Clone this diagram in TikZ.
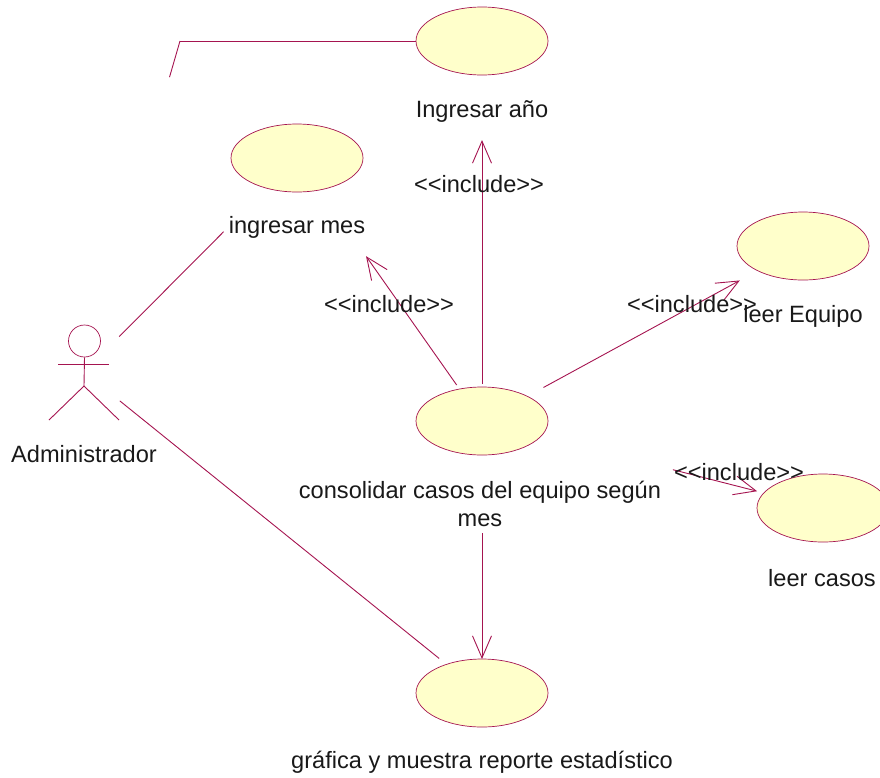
\documentclass[tikz,border=0pt]{standalone}
\usepackage{fontspec}
\setmainfont{Liberation Sans}
\usepackage{tikz}
\usetikzlibrary{shapes.geometric, arrows.meta}
\definecolor{umlline}{RGB}{165,20,80}
\definecolor{umlfill}{RGB}{255,255,203}

\begin{document}
\begin{tikzpicture}[x=1pt, y=-1pt,
  usecase/.style={ellipse, draw=umlline, fill=umlfill, line width=0.7pt, minimum width=132pt, minimum height=68pt, inner sep=0pt, outer sep=0pt},
  lbl/.style={font=\fontsize{23.6}{28}\selectfont, text=black!90, inner sep=0pt, align=center},
  link/.style={draw=umlline, line width=0.9pt},
  include/.style={link, -{Straight Barb[length=22pt, width=19pt, line width=0.9pt]}}]
\useasboundingbox (0,0) rectangle (880,777);
\clip (0,0) rectangle (880,777);

\node[usecase] (anio) at (482,41) {};
\node[usecase] (mes) at (297,158) {};
\node[usecase] (equipo) at (803,246) {};
\node[usecase] (consolidar) at (482,421) {};
\node[usecase] (casos) at (823,508) {};
\node[usecase] (reporte) at (482,693) {};

% actor
\coordinate (actor) at (84,372);
\coordinate (codo) at (180,41);
\coordinate (cadera) at (84,386);
\node[circle, draw=umlline, line width=0.7pt, minimum size=32pt, inner sep=0pt] (cabeza) at (84.5,341) {};
\coordinate (manoIzq) at (58,364);
\coordinate (manoDer) at (109,364);
\coordinate (pieIzq) at (49,420);
\coordinate (pieDer) at (119,420);
\draw[link] (cabeza.south) -- (cadera);
\draw[link] (manoIzq) -- (manoDer);
\draw[link] (pieIzq) -- (cadera) -- (pieDer);

\draw[link, shorten <=50pt, shorten >=104pt] (actor) -- (mes.center);
\draw[link, shorten <=46pt, shorten >=55pt] (actor) -- (reporte.center);
\draw[link, shorten <=307pt] (actor) -- (codo);
\draw[link] (codo) -- (anio.west);

\draw[include, shorten <=37pt, shorten >=99pt] (consolidar.center) -- (anio.center);
\draw[include, shorten <=44pt, shorten >=120pt] (consolidar.center) -- (mes.center);
\draw[include, shorten <=70pt, shorten >=72pt] (consolidar.center) -- (equipo.center);
\draw[include, shorten <=197pt, shorten >=68pt] (consolidar.center) -- (casos.center);
\draw[include, shorten <=112pt, shorten >=34pt] (consolidar.center) -- (reporte.center);

\node[lbl] (lblAnio) at (482,111) {Ingresar año};
\node[lbl] (lblMes) at (297,227) {ingresar mes};
\node[lbl] (lblEquipo) at (803,316) {leer Equipo};
\node[lbl] (lblConsolidar) at (480,504) {consolidar casos del equipo según\\mes};
\node[lbl] (lblCasos) at (822,578) {leer casos};
\node[lbl] (lblReporte) at (482,762) {gráfica y muestra reporte estadístico};
\node[lbl] (lblActor) at (84,454) {Administrador};

\node[lbl] (incAnio) at (479,184) {<{}<include>{}>};
\node[lbl] (incMes) at (389,304) {<{}<include>{}>};
\node[lbl] (incEquipo) at (692,304) {<{}<include>{}>};
\node[lbl] (incCasos) at (739,472) {<{}<include>{}>};
\end{tikzpicture}
\end{document}
